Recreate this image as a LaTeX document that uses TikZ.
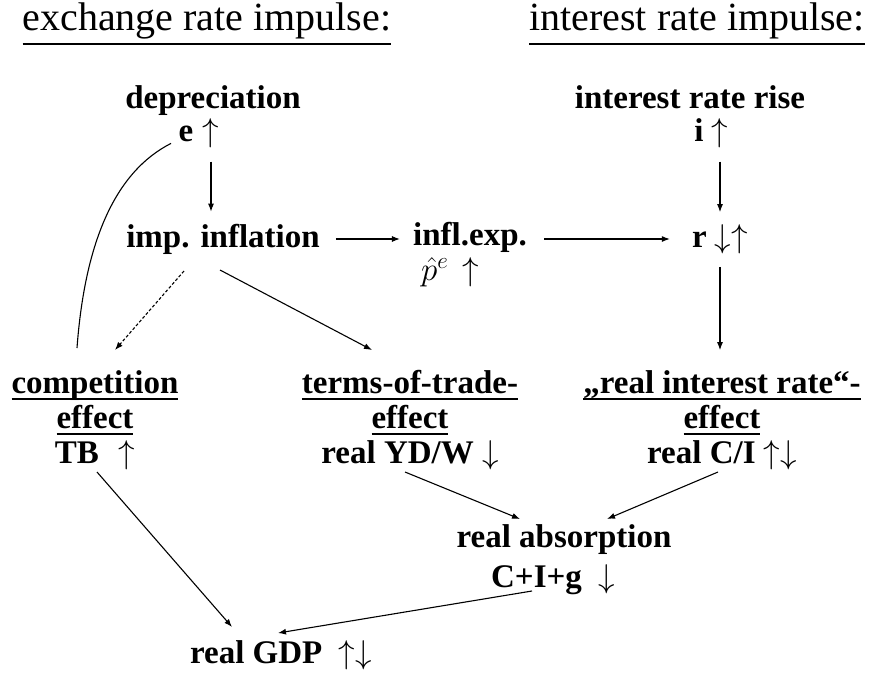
\RequirePackage{fix-cm}
\documentclass[tikz,border=0pt]{standalone}
\usepackage{fontspec}
\setmainfont{Liberation Serif}
\usetikzlibrary{arrows.meta,calc}
\newcommand\myul[2][-7pt]{\setbox0\hbox{#2}\rlap{\rule[#1]{\wd0}{2pt}}\box0}
\begin{document}
\begin{tikzpicture}[x=1pt,y=-1pt,
  txt/.style={inner sep=0pt, font=\fontsize{33}{35}\selectfont\bfseries, align=center},
  ttl/.style={inner sep=0pt, font=\fontsize{40}{44}\selectfont},
  arr/.style={line width=1.1pt, -{Latex[length=8pt,width=6pt]}},
  ln/.style={line width=1.1pt}]
\useasboundingbox (0,0) rectangle (880,675);
\node[ttl] (t1) at (207,24) {\myul[-15pt]{exchange rate impulse:}};
\node[ttl] (t2) at (697,24) {\myul[-15pt]{interest rate impulse:}};
\node[txt,anchor=base] (dep) at (213,108) {depreciation};
\node[txt,anchor=base] (e) at (186,141) {e};
\node[txt,anchor=base] (eup) at (211,141) {$\uparrow$};
\node[txt,anchor=base] (irr) at (690,108) {interest rate rise};
\node[txt,anchor=base] (i) at (699,141) {i};
\node[txt,anchor=base] (iup) at (720,141) {$\uparrow$};
\node[txt] (imp) at (223,239) {imp. inflation};
\node[txt,align=left] (infl) at (470,255) {infl.exp.\\\hspace*{8pt}$\hat{p}^e$\hspace{14pt}$\uparrow$};
\node[txt] (r) at (720,239) {r $\downarrow\uparrow$};
\node[txt] (comp) at (95,420) {\myul{competition}\\\myul{effect}\\TB\hspace{0.6em}$\uparrow$};
\node[txt] (tot) at (410,420) {\myul{terms-of-trade-}\\\myul{effect}\\real YD/W $\downarrow$};
\node[txt] (rie) at (722,420) {\myul{„real interest rate“-}\\\myul{effect}\\real C/I $\uparrow\downarrow$};
\node[txt,font=\fontsize{33}{40}\selectfont\bfseries] (abs) at (564,560) {real absorption\\C+I+g\hspace{0.5em}$\downarrow$\hspace*{22pt}};
\node[txt] (gdp) at (281,655) {real GDP\hspace{0.5em}$\uparrow\downarrow$};
% connectors
\draw[arr,shorten <=14pt,shorten >=12pt] (eup.south) -- (eup.south |- imp.north);
\draw[arr,shorten <=14pt,shorten >=12pt] (iup.south) -- (iup.south |- r.north);
\draw[arr,shorten <=16pt,shorten >=13pt] (imp.east) -- (infl.west |- imp.east);
\draw[arr,shorten <=17pt,shorten >=22pt] (infl.east |- r.west) -- (r.west);
\draw[arr,shorten <=13pt,shorten >=20pt] (r.south -| iup) -- (rie.north -| iup);
\draw[arr,densely dashed] ($(imp)+(-39,32)$) -- ($(comp)+(20,-70)$);
\draw[arr] ($(imp)+(-3,31)$) -- ($(tot)+(-38,-70)$);
\draw[ln] ($(comp)+(-18,-72)$) .. controls +(8,-108) and ($(e)+(-70,38)$) .. ($(e)+(-15,10)$);
\draw[arr] ($(comp)+(2,52)$) -- ($(gdp)+(-49,-28)$);
\draw[arr] ($(tot)+(-5,52)$) -- ($(abs)+(-44,-41)$);
\draw[arr] ($(rie)+(-4,52)$) -- ($(abs)+(43,-41)$);
\draw[arr] ($(abs)+(-32,31)$) -- ($(gdp)+(-3,-22)$);
\end{tikzpicture}
\end{document}
